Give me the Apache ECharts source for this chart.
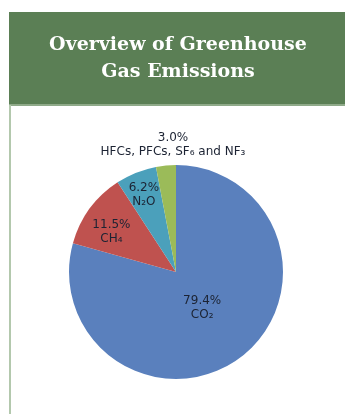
<!DOCTYPE html>
<html>
<head>
<meta charset="utf-8">
<script src="https://cdn.jsdelivr.net/npm/echarts@6/dist/echarts.min.js"></script>
<style>
html,body{margin:0;padding:0;background:#fff;}
#chart{width:356px;height:414px;}
</style>
</head>
<body>
<div id="chart"></div>
<script>
var categories = ['CO₂', 'CH₄', 'N₂O', 'HFCs, PFCs, SF₆ and NF₃'];
var values = [79.4, 11.5, 6.2, 3.0];
var colors = ['#5a80bd', '#bf524f', '#4ba0bb', '#9bbb59'];
var labelOffsets = [[-8, -9], [-19, -7], [-11, -25], [0, 0]];

var chart = echarts.init(document.getElementById('chart'));
var data = categories.map(function (c, i) {
  var item = { name: c, value: values[i], itemStyle: { color: colors[i] } };
  if (i === 3) {
    item.label = { position: 'outside', overflow: 'none', width: 220 };
    item.labelLine = { show: false };
  }
  return item;
});

chart.setOption({
  animation: false,
  graphic: [
    { type: 'rect', shape: { x: 9, y: 12, width: 336, height: 93 }, style: { fill: '#5b7f55' }, z: 0 },
    { type: 'rect', shape: { x: 9, y: 104, width: 336, height: 2 }, style: { fill: '#8faa89' }, z: 0 },
    { type: 'rect', shape: { x: 9, y: 105, width: 2, height: 309 }, style: { fill: '#b3c8ad' }, z: 0 }
  ],
  title: {
    text: 'Overview of Greenhouse\nGas Emissions',
    left: 'center',
    top: 27,
    textStyle: {
      color: '#ffffff',
      fontFamily: 'DejaVu Serif',
      fontWeight: 'bold',
      fontSize: 19,
      lineHeight: 27
    }
  },
  series: [{
    type: 'pie',
    center: [176, 272],
    radius: 107,
    startAngle: 90,
    clockwise: true,
    data: data,
    label: {
      show: true,
      position: 'inside',
      formatter: function (p) { return values[p.dataIndex].toFixed(1) + '%\n' + p.name; },
      fontFamily: 'DejaVu Sans',
      fontSize: 12,
      lineHeight: 14,
      color: '#1c2333',
      align: 'center'
    },
    labelLine: { show: false },
    labelLayout: function (p) {
      var o = labelOffsets[p.dataIndex];
      if (p.dataIndex === 3) {
        return { x: 173, y: 145, align: 'center', verticalAlign: 'middle' };
      }
      return { dx: o[0], dy: o[1] };
    },
    emphasis: { disabled: true }
  }]
});
</script>
</body>
</html>
